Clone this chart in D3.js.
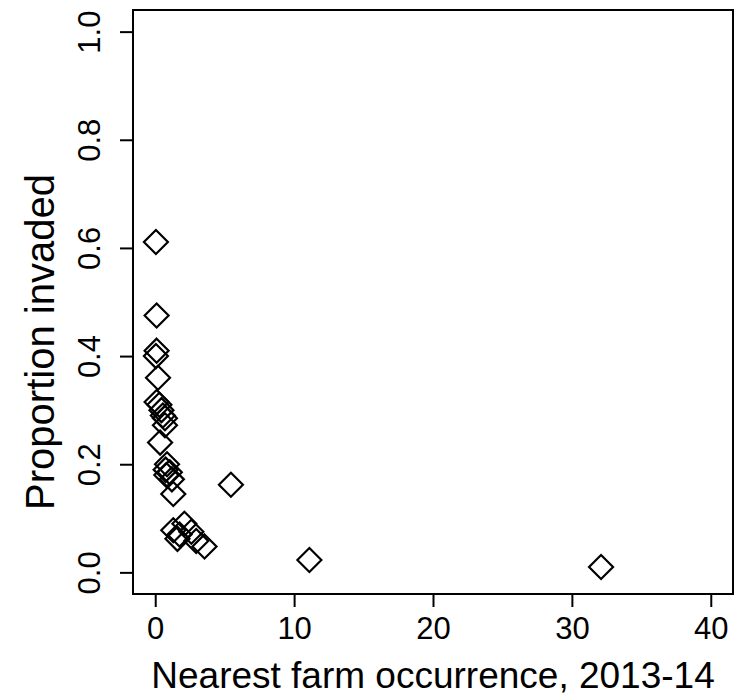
<!DOCTYPE html>
<html><head><meta charset="utf-8">
<script src="https://cdn.jsdelivr.net/npm/d3@7"></script>
<style>body{margin:0;background:#fff}</style>
</head><body>
<script>
const xVals = [0.05,0.1,0.1,0.05,0.2,0.1,0.3,0.45,0.55,0.7,0.7,0.35,0.85,0.75,1.05,0.8,1.2,1.3,5.45,2.1,1.3,1.75,2.6,1.6,2.95,3.55,11.1,32.1];
const yVals = [0.611,0.475,0.41,0.40,0.36,0.315,0.31,0.30,0.29,0.285,0.272,0.24,0.20,0.19,0.185,0.18,0.172,0.145,0.162,0.09,0.078,0.07,0.075,0.062,0.058,0.048,0.023,0.01];
const xTicks = [0,10,20,30,40];
const yTicks = [0.0,0.2,0.4,0.6,0.8,1.0];
const xTitle = "Nearest farm occurrence, 2013-14";
const yTitle = "Proportion invaded";

const W=739,H=699;
const L=133,R=733,T=10,B=594;
const svg=d3.select("body").append("svg").attr("width",W).attr("height",H);
const x=d3.scaleLinear().domain([-1.6,41.6]).range([L,R]);
const y=d3.scaleLinear().domain([-0.04,1.04]).range([B,T]);
const font="'Liberation Sans', Arial, sans-serif";

svg.append("rect").attr("x",L).attr("y",T).attr("width",R-L).attr("height",B-T)
  .attr("fill","none").attr("stroke","#000").attr("stroke-width",2);

const xa=svg.append("g").attr("transform",`translate(0,${B})`)
  .call(d3.axisBottom(x).tickValues(xTicks).tickSize(13).tickPadding(10).tickFormat(d3.format("d")));
xa.select(".domain").attr("d",`M${x(0)},0H${x(40)}`).attr("stroke-width",2);
xa.selectAll(".tick line").attr("stroke-width",2);
xa.selectAll("text").attr("font-family",font).attr("font-size",31).attr("fill","#000");

const ya=svg.append("g").attr("transform",`translate(${L},0)`)
  .call(d3.axisLeft(y).tickValues(yTicks).tickSize(13).tickFormat(d3.format(".1f")));
ya.select(".domain").attr("d",`M0,${y(0)}V${y(1)}`).attr("stroke-width",2);
ya.selectAll(".tick line").attr("stroke-width",2);
ya.selectAll("text").attr("font-family",font).attr("font-size",31).attr("fill","#000")
  .attr("transform","rotate(-90)").attr("x",0).attr("y",-33).attr("dy","0").attr("text-anchor","middle");

svg.append("text").attr("x",(x(0)+x(40))/2).attr("y",688).attr("text-anchor","middle")
  .attr("font-family",font).attr("font-size",37).text(xTitle);
svg.append("text").attr("transform",`translate(54,342) rotate(-90)`).attr("text-anchor","middle")
  .attr("font-family",font).attr("font-size",40).text(yTitle);

const data=xVals.map((v,i)=>({x:v,y:yVals[i]}));
const s=12;
svg.append("g").selectAll("path").data(data).join("path")
  .attr("d",d=>{const cx=x(d.x),cy=y(d.y);return `M${cx},${cy-s}L${cx+s},${cy}L${cx},${cy+s}L${cx-s},${cy}Z`;})
  .attr("fill","none").attr("stroke","#000").attr("stroke-width",2.2);
</script>
</body></html>
